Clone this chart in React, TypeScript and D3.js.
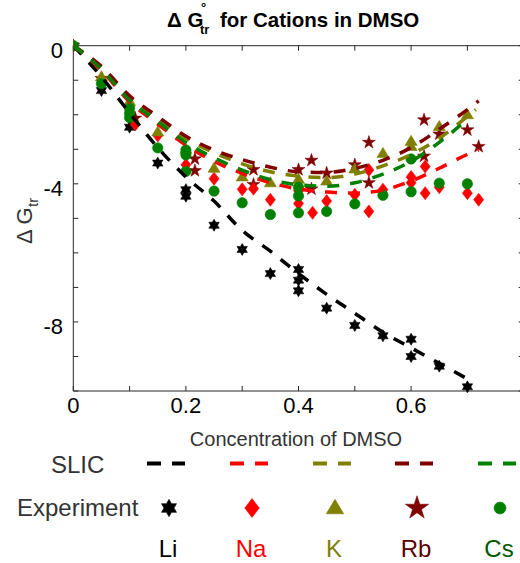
import React from 'react';
import * as d3 from 'd3';

const W = 520;
const H = 563;

// ---- data ----
const X_DOMAIN: [number, number] = [0, 0.8];
const Y_DOMAIN: [number, number] = [-10, 0];
const X_TICKS = [0, 0.1, 0.2, 0.3, 0.4, 0.5, 0.6, 0.7, 0.8];
const X_TICK_LABELS = ['0', '', '0.2', '', '0.4', '', '0.6', '', ''];
const Y_TICKS = [0, -1, -2, -3, -4, -5, -6, -7, -8, -9, -10];
const Y_TICK_LABELS = ['0', '', '', '', '-4', '', '', '', '-8', '', ''];

const IONS = ['Li', 'Na', 'K', 'Rb', 'Cs'];
const COLORS = ['#000000', '#ff0000', '#808000', '#800000', '#008000'];
const LABEL_COLORS = ['#000000', '#ff0000', '#808000', '#5a0000', '#005a00'];

const LI_EXP: [number, number][] = [
  [0, 0], [0.05, -1.3], [0.1, -2.36], [0.15, -3.4], [0.2, -4.17], [0.2, -4.36],
  [0.25, -5.2], [0.3, -5.9], [0.35, -6.6], [0.4, -6.48], [0.4, -6.79], [0.4, -7.1],
  [0.45, -7.6], [0.5, -8.1], [0.55, -8.4], [0.6, -8.5], [0.6, -9.0], [0.65, -9.28], [0.7, -9.88],
];
const NA_EXP: [number, number][] = [
  [0, 0], [0.05, -1.0], [0.11, -2.28], [0.15, -2.6], [0.2, -3.45], [0.25, -3.85],
  [0.3, -4.16], [0.32, -4.14], [0.35, -4.46], [0.4, -4.2], [0.4, -4.57], [0.425, -4.84],
  [0.45, -4.5], [0.5, -4.32], [0.525, -3.6], [0.525, -4.8], [0.55, -4.17], [0.6, -3.8],
  [0.6, -3.97], [0.625, -3.5], [0.625, -4.27], [0.65, -4.1], [0.7, -4.27], [0.72, -4.46],
];
const K_EXP: [number, number][] = [
  [0, 0], [0.05, -0.9], [0.1, -1.62], [0.15, -2.5], [0.2, -3.0], [0.25, -3.55],
  [0.3, -3.8], [0.35, -3.97], [0.4, -3.87], [0.45, -3.92], [0.5, -3.57], [0.55, -3.12],
  [0.6, -2.77], [0.6, -2.92], [0.65, -2.34], [0.7, -2.0],
];
const RB_EXP: [number, number][] = [
  [0, 0], [0.05, -0.95], [0.11, -2.1], [0.216, -3.28], [0.216, -3.62], [0.32, -3.59],
  [0.32, -4.02], [0.4, -3.59], [0.423, -3.32], [0.423, -4.15], [0.45, -3.69], [0.5, -3.45],
  [0.525, -2.8], [0.525, -3.97], [0.623, -2.15], [0.623, -3.2], [0.65, -2.56], [0.7, -2.44],
  [0.72, -2.92],
];
const CS_EXP: [number, number][] = [
  [0, 0], [0.05, -1.1], [0.1, -1.81], [0.1, -1.95], [0.1, -2.08], [0.15, -2.96],
  [0.2, -3.02], [0.2, -3.16], [0.2, -3.64], [0.25, -4.21], [0.3, -4.55], [0.35, -4.89],
  [0.4, -4.1], [0.4, -4.35], [0.4, -4.84], [0.45, -4.8], [0.5, -4.58], [0.55, -4.33],
  [0.6, -3.28], [0.6, -4.23], [0.65, -3.98], [0.7, -4.0],
];

const LI_SLIC: [number, number][] = [
  [0, 0], [0.05, -0.9], [0.1, -1.95], [0.15, -2.95], [0.2, -3.8], [0.25, -4.5],
  [0.3, -5.35], [0.35, -5.95], [0.4, -6.6], [0.45, -7.2], [0.5, -7.75], [0.55, -8.3],
  [0.6, -8.75], [0.65, -9.2], [0.7, -9.65],
];
const NA_SLIC: [number, number][] = [
  [0, 0], [0.05, -0.72], [0.1, -1.63], [0.15, -2.27], [0.2, -2.88], [0.25, -3.35],
  [0.3, -3.7], [0.35, -3.97], [0.4, -4.15], [0.45, -4.24], [0.5, -4.27], [0.55, -4.18],
  [0.6, -3.92], [0.65, -3.55], [0.7, -3.15], [0.72, -3.02],
];
const K_SLIC: [number, number][] = [
  [0, 0], [0.05, -0.63], [0.1, -1.5], [0.15, -2.1], [0.2, -2.68], [0.25, -3.1],
  [0.3, -3.42], [0.35, -3.65], [0.4, -3.78], [0.45, -3.82], [0.5, -3.72], [0.55, -3.48],
  [0.6, -3.15], [0.65, -2.68], [0.7, -2.05], [0.715, -1.85],
];
const RB_SLIC: [number, number][] = [
  [0, 0], [0.05, -0.6], [0.1, -1.45], [0.15, -2.05], [0.2, -2.62], [0.25, -3.02],
  [0.3, -3.3], [0.35, -3.52], [0.4, -3.65], [0.45, -3.67], [0.5, -3.55], [0.55, -3.32],
  [0.6, -2.95], [0.65, -2.42], [0.7, -1.85], [0.72, -1.6],
];
const CS_SLIC: [number, number][] = [
  [0, 0], [0.05, -0.68], [0.1, -1.58], [0.15, -2.2], [0.2, -2.8], [0.25, -3.25],
  [0.3, -3.6], [0.35, -3.88], [0.4, -4.03], [0.45, -4.07], [0.5, -3.97], [0.55, -3.72],
  [0.6, -3.35], [0.65, -2.8], [0.7, -2.13],
];

const EXP = [LI_EXP, NA_EXP, K_EXP, RB_EXP, CS_EXP];
const SLIC = [LI_SLIC, NA_SLIC, K_SLIC, RB_SLIC, CS_SLIC];

// ---- layout ----
const PLOT = { left: 73.3, top: 45.7, right: 523.7, bottom: 391 };
const FONT = 'Liberation Sans, Arial, Helvetica, sans-serif';

const x = d3.scaleLinear().domain(X_DOMAIN).range([PLOT.left, PLOT.right]);
const y = d3.scaleLinear().domain(Y_DOMAIN).range([PLOT.bottom, PLOT.top]);

function starPath(n: number, R: number, r: number): string {
  const pts: [number, number][] = [];
  for (let i = 0; i < 2 * n; i++) {
    const a = -Math.PI / 2 + (i * Math.PI) / n;
    const rad = i % 2 === 0 ? R : r;
    pts.push([rad * Math.cos(a), rad * Math.sin(a)]);
  }
  return 'M' + pts.map((p) => p[0].toFixed(2) + ',' + p[1].toFixed(2)).join('L') + 'Z';
}

function markerPath(kind: number, scale: number): string {
  switch (kind) {
    case 0:
      return starPath(6, 6 * scale, (6 * scale) / Math.sqrt(3));
    case 1: {
      const w = 5 * scale, h = 6.5 * scale;
      return `M0,${-h}L${w},0L0,${h}L${-w},0Z`;
    }
    case 2: {
      const w = 6 * scale, h = 10 * scale;
      return `M0,${-h * 0.6}L${w},${h * 0.4}L${-w},${h * 0.4}Z`;
    }
    case 3:
      return starPath(5, 6.8 * scale, 6.8 * scale * 0.382);
    default: {
      const r = 5.2 * scale;
      return `M${r},0A${r},${r} 0 1,1 ${-r},0A${r},${r} 0 1,1 ${r},0Z`;
    }
  }
}

const lineGen = d3
  .line<[number, number]>()
  .x((d) => x(d[0]))
  .y((d) => y(d[1]))
  .curve(d3.curveMonotoneX);

const DRAW_ORDER = [0, 3, 1, 2, 4];

export default function App() {
  const legendX = [169, 252, 335, 417, 500];
  return (
    <svg
      width={W}
      height={H}
      viewBox={`0 0 ${W} ${H}`}
      style={{ position: 'absolute', left: 0, top: 0, background: '#fff' }}
      fontFamily={FONT}
    >
      <defs>
        <clipPath id="plotclip">
          <rect x={PLOT.left} y={PLOT.top - 8} width={PLOT.right - PLOT.left + 8} height={PLOT.bottom - PLOT.top + 16} />
        </clipPath>
      </defs>

      {/* title */}
      <text x={167} y={27} fontSize={20.5} fontWeight="bold" fill="#000">Δ G</text>
      <text x={201} y={12} fontSize={13} fontWeight="bold" fill="#000">°</text>
      <text x={200} y={34} fontSize={13} fontWeight="bold" fill="#000">tr</text>
      <text x={220} y={27} fontSize={20.5} fontWeight="bold" fill="#000">for Cations in DMSO</text>

      {/* axes box */}
      <g stroke="#262626" strokeWidth={1} fill="none">
        <line x1={PLOT.left} y1={PLOT.top} x2={PLOT.right} y2={PLOT.top} />
        <line x1={PLOT.left} y1={PLOT.bottom} x2={PLOT.right} y2={PLOT.bottom} />
        <line x1={PLOT.left} y1={PLOT.top} x2={PLOT.left} y2={PLOT.bottom} />
        <line x1={PLOT.right} y1={PLOT.top} x2={PLOT.right} y2={PLOT.bottom} />
        {X_TICKS.map((t) => (
          <g key={'xt' + t}>
            <line x1={x(t)} x2={x(t)} y1={PLOT.bottom} y2={PLOT.bottom - 5} />
            <line x1={x(t)} x2={x(t)} y1={PLOT.top} y2={PLOT.top + 5} />
          </g>
        ))}
        {Y_TICKS.map((t) => (
          <g key={'yt' + t}>
            <line x1={PLOT.left} x2={PLOT.left + 5} y1={y(t)} y2={y(t)} />
            <line x1={PLOT.right} x2={PLOT.right - 5} y1={y(t)} y2={y(t)} />
          </g>
        ))}
      </g>
      {X_TICKS.map((t, i) =>
        X_TICK_LABELS[i] ? (
          <text key={'xl' + t} x={x(t)} y={413} fontSize={22} textAnchor="middle" fill="#000">
            {X_TICK_LABELS[i]}
          </text>
        ) : null
      )}
      {Y_TICKS.map((t, i) =>
        Y_TICK_LABELS[i] ? (
          <text key={'yl' + t} x={63} y={y(t) + 12} fontSize={22} textAnchor="end" fill="#000">
            {Y_TICK_LABELS[i]}
          </text>
        ) : null
      )}

      {/* y label */}
      <g transform="translate(32,244) rotate(-90)">
        <text x={0} y={0} fontSize={22} fill="#333">Δ G</text>
        <text x={37} y={6} fontSize={15} fill="#333">tr</text>
      </g>

      {/* x label */}
      <text x={296} y={446} fontSize={20} textAnchor="middle" fill="#333">Concentration of DMSO</text>

      {/* data */}
      <g clipPath="url(#plotclip)">
        {DRAW_ORDER.map((k) => (
          <g key={'m' + k} fill={COLORS[k]} stroke={COLORS[k]} strokeWidth={0.6}>
            {EXP[k].map((d, i) => (
              <path key={i} d={markerPath(k, 1)} transform={`translate(${x(d[0])},${y(d[1])})`} />
            ))}
          </g>
        ))}
        {SLIC.map((s, k) => (
          <path
            key={'l' + k}
            d={lineGen(s) || ''}
            fill="none"
            stroke={COLORS[k]}
            strokeWidth={3.5}
            strokeDasharray="12,11"
          />
        ))}
      </g>

      {/* legend */}
      <text x={51} y={473} fontSize={24} fill="#333">SLIC</text>
      <text x={17} y={516} fontSize={24} fill="#333">Experiment</text>
      {IONS.map((ion, k) => (
        <g key={'lg' + ion}>
          <line
            x1={legendX[k] - 22}
            x2={legendX[k] + 16}
            y1={463.5}
            y2={463.5}
            stroke={COLORS[k]}
            strokeWidth={4}
            strokeDasharray="14,11"
          />
          <path
            d={markerPath(k, k === 3 ? 1.8 : k === 4 ? 1.15 : 1.45)}
            transform={`translate(${legendX[k]},${508})`}
            fill={COLORS[k]}
            stroke={COLORS[k]}
            strokeWidth={0.6}
          />
          <text
            x={legendX[k] - 1}
            y={557}
            fontSize={24}
            textAnchor="middle"
            fill={LABEL_COLORS[k]}
          >
            {ion}
          </text>
        </g>
      ))}
    </svg>
  );
}
